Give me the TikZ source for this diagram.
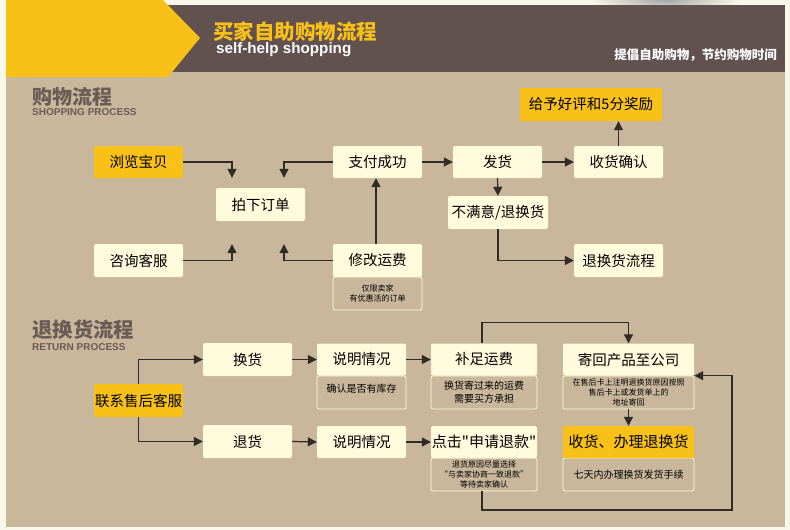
\documentclass[tikz,border=0pt]{standalone}
\usepackage{fontspec}
\setmainfont{Liberation Sans}
\newfontfamily\cjk{Noto Sans CJK SC}
\usetikzlibrary{arrows.meta}
\definecolor{bgcream}{HTML}{F7F8E7}
\definecolor{tan}{HTML}{C8B79A}
\definecolor{brown}{HTML}{62524F}
\definecolor{yel}{HTML}{F9C118}
\definecolor{cream}{HTML}{FFFBDC}
\definecolor{headC}{HTML}{6B5B56}
\definecolor{lineC}{HTML}{2F2B27}
\tikzset{
  box/.style={fill=cream, rounded corners=2pt, minimum width=89pt, minimum height=32pt,
    inner sep=0pt, font=\cjk\fontsize{14.5}{16}\selectfont, text=black},
  ybox/.style={box, fill=yel},
  note/.style={draw=cream, line width=0.8pt, fill=tan, rounded corners=2pt, inner sep=0pt,
    minimum height=33pt, align=center, text=black, font=\cjk\fontsize{8}{10}\selectfont},
  bignote/.style={note, font=\cjk\fontsize{10}{13}\selectfont},
  arr/.style={draw=lineC, line width=1.2pt, -{Triangle[length=9pt,width=9pt]}},
  lbl/.style={inner sep=0pt},
}
\begin{document}
\begin{tikzpicture}[x=1pt,y=-1pt]
\useasboundingbox (0,0) rectangle (790,530);
% backgrounds
\fill[bgcream] (0,0) rectangle (790,530);
\begin{scope}
  \clip (590,0) rectangle (760,5);
  \shade[inner color=black!35, outer color=bgcream] (665,0) ellipse (75pt and 11pt);
\end{scope}
\fill[tan] (6,72) rectangle (785,527);
\fill[brown] (6,5) rectangle (785,72);
\fill[yel] (6,0) -- (163,0) -- (200,38) -- (168,77) -- (6,77) -- cycle;

% header texts
\node[lbl, anchor=west, text=yel, font=\cjk\bfseries\fontsize{20.5}{22}\selectfont] (title) at (213,32) {买家自助购物流程};
\node[lbl, anchor=west, text=white, font=\bfseries\fontsize{15.2}{16}\selectfont] (subtitle) at (216,50) {self-help shopping};
\node[lbl, anchor=east, text=white, font=\cjk\bfseries\fontsize{12.5}{14}\selectfont] (slogan) at (777,55) {提倡自助购物，节约购物时间};

% section headings
\node[lbl, anchor=west, text=headC, font=\cjk\bfseries\fontsize{20}{22}\selectfont] (sec1) at (32,97) {购物流程};
\node[lbl, anchor=west, text=headC, font=\bfseries\fontsize{10}{12}\selectfont] (sec1en) at (32,112) {SHOPPING PROCESS};
\node[lbl, anchor=west, text=headC, font=\cjk\bfseries\fontsize{20.4}{22}\selectfont] (sec2) at (32,330) {退换货流程};
\node[lbl, anchor=west, text=headC, font=\bfseries\fontsize{10}{12}\selectfont] (sec2en) at (32,347) {RETURN PROCESS};

% ---- shopping process
\node[ybox] (browse) at (138.5,162) {浏览宝贝};
\node[box, minimum height=33pt] (order) at (260.5,204.5) {拍下订单};
\node[box, minimum height=33pt] (consult) at (138.5,260.5) {咨询客服};
\node[box] (pay) at (377.5,162) {支付成功};
\node[box] (ship) at (497.5,162) {发货};
\node[box, minimum width=100pt, minimum height=33pt] (unsat) at (498,212.5) {不满意/退换货};
\node[note, minimum width=89pt] (feenote) at (377.5,293.5) {仅限卖家\\有优惠活的订单};
\node[box, minimum height=33pt] (fee) at (377.5,260.5) {修改运费};
\node[ybox, minimum width=142pt, minimum height=33pt] (praise) at (591,104.5) {给予好评和5分奖励};
\node[box] (confirm) at (618.5,162) {收货确认};
\node[box, minimum height=33pt] (retflow) at (618.5,260.5) {退换货流程};

\draw[arr, shorten >=10pt] (browse.east) -| ([xshift=-28.5pt]order.north);
\draw[arr, shorten >=10pt] (pay.west) -| ([xshift=23.5pt]order.north);
\draw[arr, shorten >=23pt] (consult.east) -| ([xshift=-28.5pt]order.south);
\draw[arr, shorten >=23pt] (fee.west) -| ([xshift=23.5pt]order.south);
\draw[arr] ([xshift=-1.5pt]fee.north) -- ([xshift=-1.5pt]pay.south);
\draw[arr] (pay.east) -- (ship.west);
\draw[arr] (ship.east) -- (confirm.west);
\draw[arr] (confirm.north) -- (confirm.north |- praise.south);
\draw[arr] (ship.south) -- (unsat.north);
\draw[arr] (unsat.south) |- (retflow.west);

% ---- return process
\node[ybox, minimum height=33pt] (contact) at (138.5,400.5) {联系售后客服};
\node[box, minimum height=33pt] (exch) at (247.5,359.5) {换货};
\node[box, minimum height=33pt] (refund) at (247.5,441.5) {退货};
\node[bignote, minimum width=89pt, text depth=8pt] (explain1note) at (361.5,392.5) {确认是否有库存};
\node[box] (explain1) at (361.5,359.5) {说明情况};
\node[bignote, minimum width=106pt] (addfeenote) at (484,392.5) {换货寄过来的运费\\需要买方承担};
\node[box, minimum width=106pt] (addfee) at (484,359.5) {补足运费};
\node[box] (explain2) at (361.5,442) {说明情况};
\node[note, minimum width=106pt] (applynote) at (484,474.5) {退货原因尽量选择\\“与卖家协商一致退款”\\等待卖家确认};
\node[box, minimum width=106pt, font=\cjk\fontsize{15}{16}\selectfont] (apply) at (484,442) {点击"申请退款"};
\node[note, minimum width=131pt] (sendbacknote) at (628.5,392.5) {在售后卡上注明退换货原因按照\\售后卡上或发货单上的\\地址寄回};
\node[box, minimum width=131pt] (sendback) at (628.5,359.5) {寄回产品至公司};
\node[bignote, minimum width=131pt] (handlenote) at (628.5,474.5) {七天内办理换货发货手续};
\node[ybox, minimum width=131pt, font=\cjk\fontsize{15}{16}\selectfont] (handle) at (628.5,442) {收货、办理退换货};
\coordinate (loopR) at (732,510);

\draw[arr] (contact.north) |- (exch.west);
\draw[arr] (contact.south) |- (refund.west);
\draw[arr] (exch.east) -- (explain1.west);
\draw[arr] (explain1.east) -- (addfee.west);
\draw[arr] (refund.east) -- (explain2.west);
\draw[arr] (explain2.east) -- (apply.west);
\draw[arr] ([xshift=-2pt]addfee.north) -- ++(0,-21) -| (sendback.north);
\draw[arr] (sendbacknote.south) -- (handle.north);
\draw[arr] ([xshift=-2pt]applynote.south) |- (loopR) |- (sendback.south east);
\end{tikzpicture}
\end{document}
